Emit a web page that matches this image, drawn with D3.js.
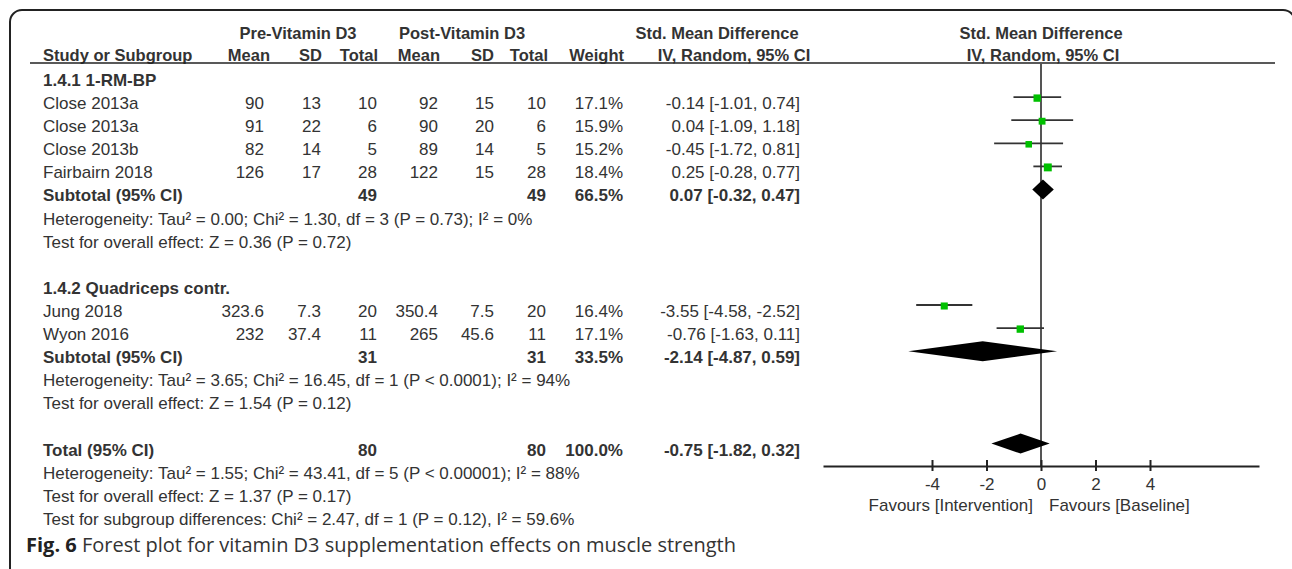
<!DOCTYPE html>
<html><head><meta charset="utf-8">
<script src="https://cdn.jsdelivr.net/npm/d3@7"></script>
<style>
html,body{margin:0;padding:0;background:#fff;}
svg text{font-family:"Liberation Sans",Arial,sans-serif;fill:#333;}
</style></head>
<body><svg id="c" width="1292" height="569"></svg>
<script>
// ---- data ----
const studies   = ["Close 2013a","Close 2013a","Close 2013b","Fairbairn 2018","Jung 2018","Wyon 2016"];
const studyRow  = [1,2,3,4,10,11];
const preMean   = ["90","91","82","126","323.6","232"];
const preSD     = ["13","22","14","17","7.3","37.4"];
const preTotal  = ["10","6","5","28","20","11"];
const postMean  = ["92","90","89","122","350.4","265"];
const postSD    = ["15","20","14","15","7.5","45.6"];
const postTotal = ["10","6","5","28","20","11"];
const weights   = [17.1,15.9,15.2,18.4,16.4,17.1];
const smd       = [-0.14,0.04,-0.45,0.25,-3.55,-0.76];
const ciLow     = [-1.01,-1.09,-1.72,-0.28,-4.58,-1.63];
const ciHigh    = [0.74,1.18,0.81,0.77,-2.52,0.11];

const groupTitles = ["1.4.1 1-RM-BP","1.4.2 Quadriceps contr."];
const groupRow    = [0,9];

const pooledLabel = ["Subtotal (95% CI)","Subtotal (95% CI)","Total (95% CI)"];
const pooledRow   = [5,12,16];
const pooledPreN  = ["49","31","80"];
const pooledPostN = ["49","31","80"];
const pooledW     = ["66.5%","33.5%","100.0%"];
const pooledEst   = [0.07,-2.14,-0.75];
const pooledLow   = [-0.32,-4.87,-1.82];
const pooledHigh  = [0.47,0.59,0.32];

const noteText = [
 "Heterogeneity: Tau\u00b2 = 0.00; Chi\u00b2 = 1.30, df = 3 (P = 0.73); I\u00b2 = 0%",
 "Test for overall effect: Z = 0.36 (P = 0.72)",
 "Heterogeneity: Tau\u00b2 = 3.65; Chi\u00b2 = 16.45, df = 1 (P < 0.0001); I\u00b2 = 94%",
 "Test for overall effect: Z = 1.54 (P = 0.12)",
 "Heterogeneity: Tau\u00b2 = 1.55; Chi\u00b2 = 43.41, df = 5 (P < 0.00001); I\u00b2 = 88%",
 "Test for overall effect: Z = 1.37 (P = 0.17)",
 "Test for subgroup differences: Chi\u00b2 = 2.47, df = 1 (P = 0.12), I\u00b2 = 59.6%"
];
const noteRow = [6,7,13,14,17,18,19];

const tickVals = [-4,-2,0,2,4];
const axisDomain = [-8,8];

// ---- layout ----
const svg = d3.select("#c");
const FS = 17;
const rowY = d3.scaleLinear().domain([0,1]).range([80,103.1]);   // text centre of row
const markY = r => rowY(r) - 6;
const x = d3.scaleLinear().domain(axisDomain).range([823,1259]);
const axisY = 466, ruleY = 63;

const col = {pm:264, psd:321, pt:377, qm:438, qsd:494, qt:546, w:623, ci:800};
const fmt = v => (v<0?"-":"") + Math.abs(v).toFixed(2);
const ciStr = (e,l,h) => `${fmt(e)} [${fmt(l)}, ${fmt(h)}]`;

function txt(s, xx, yy, anchor="start", bold=false, size=FS){
  return svg.append("text").attr("x",xx).attr("y",yy).attr("dy","0.35em")
    .attr("text-anchor",anchor).attr("font-size",size)
    .attr("font-weight",bold?"bold":"normal").text(s);
}

// frame
svg.append("rect").attr("x",10).attr("y",10).attr("width",1285).attr("height",580)
  .attr("rx",12).attr("fill","none").attr("stroke","#222").attr("stroke-width",2);

// headers
const HB = 16.5;
txt("Pre-Vitamin D3",298,33,"middle",true,HB);
txt("Post-Vitamin D3",462,33,"middle",true,HB);
txt("Std. Mean Difference",717,33,"middle",true,HB);
txt("Std. Mean Difference",1041,33,"middle",true,HB);
txt("Study or Subgroup",43,55,"start",true,HB);
[["Mean",270],["SD",322],["Total",378],["Mean",440],["SD",494],["Total",548],["Weight",624]]
  .forEach(([s,xx])=>txt(s,xx,55,"end",true,HB));
txt("IV, Random, 95% CI",734,55,"middle",true,HB);
txt("IV, Random, 95% CI",1043,55,"middle",true,HB);
svg.append("line").attr("x1",30).attr("x2",1275).attr("y1",ruleY).attr("y2",ruleY)
  .attr("stroke","#222").attr("stroke-width",1.5);

// group titles
groupTitles.forEach((g,i)=>txt(g,43,rowY(groupRow[i]),"start",true));

// studies
studies.forEach((s,i)=>{
  const y = rowY(studyRow[i]);
  txt(s,43,y);
  txt(preMean[i],col.pm,y,"end"); txt(preSD[i],col.psd,y,"end"); txt(preTotal[i],col.pt,y,"end");
  txt(postMean[i],col.qm,y,"end"); txt(postSD[i],col.qsd,y,"end"); txt(postTotal[i],col.qt,y,"end");
  txt(weights[i].toFixed(1)+"%",col.w,y,"end");
  txt(ciStr(smd[i],ciLow[i],ciHigh[i]),col.ci,y,"end");
});

// pooled rows
pooledLabel.forEach((s,i)=>{
  const y = rowY(pooledRow[i]);
  txt(s,43,y,"start",true);
  txt(pooledPreN[i],col.pt,y,"end",true);
  txt(pooledPostN[i],col.qt,y,"end",true);
  txt(pooledW[i],col.w,y,"end",true);
  txt(ciStr(pooledEst[i],pooledLow[i],pooledHigh[i]),col.ci,y,"end",true);
});

// notes
noteText.forEach((s,i)=>txt(s,43,rowY(noteRow[i])));

// zero line
svg.append("line").attr("x1",x(0)).attr("x2",x(0)).attr("y1",ruleY).attr("y2",axisY)
  .attr("stroke","#555").attr("stroke-width",2);

// study CIs and squares
const sz = d3.scaleLinear().domain([0,100]).range([0,43]);
const g = svg.append("g");
studies.forEach((s,i)=>{
  const y = markY(studyRow[i]);
  g.append("line").attr("x1",x(ciLow[i])).attr("x2",x(ciHigh[i])).attr("y1",y).attr("y2",y)
    .attr("stroke","#333").attr("stroke-width",1.8);
  const w = sz(weights[i]);
  g.append("rect").attr("x",x(smd[i])-w/2).attr("y",y+1-w/2).attr("width",w).attr("height",w)
    .attr("fill","#00c000");
});
// diamonds
pooledEst.forEach((e,i)=>{
  const y = markY(pooledRow[i]);
  const pts = [[x(pooledLow[i]),y],[x(e),y-10],[x(pooledHigh[i]),y],[x(e),y+10]];
  g.append("path").attr("d","M"+pts.map(p=>p.join(",")).join("L")+"Z").attr("fill","#000");
});

// axis
const ax = svg.append("g").attr("transform",`translate(0,${axisY})`)
  .call(d3.axisBottom(x).tickValues(tickVals).tickSizeInner(5).tickSizeOuter(0).tickPadding(7)
        .tickFormat(d=>String(d)));
ax.select(".domain").attr("stroke","#222").attr("stroke-width",2);
ax.selectAll(".tick line").attr("y1",-6).attr("y2",5).attr("stroke","#222").attr("stroke-width",2);
ax.selectAll(".tick text").attr("font-size",FS).attr("font-family","Liberation Sans, Arial, sans-serif").attr("fill","#333");

txt("Favours [Intervention]",x(0)-8,505,"end",false);
txt("Favours [Baseline]",x(0)+8,505,"start",false);

// caption
const cap = svg.append("text").attr("x",26).attr("y",545).attr("dy","0.35em")
  .attr("font-size",20).style("font-family","'Open Sans',sans-serif");
cap.append("tspan").attr("font-weight","bold").style("fill","#222").text("Fig. 6");
cap.append("tspan").style("fill","#333").text(" Forest plot for vitamin D3 supplementation effects on muscle strength");
</script></body></html>
